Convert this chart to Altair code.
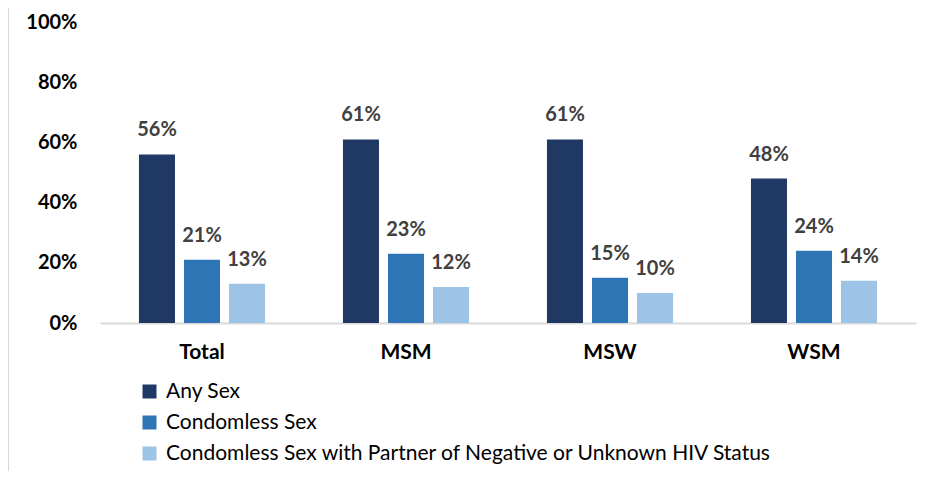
import altair as alt
import pandas as pd

categories = ["Total", "MSM", "MSW", "WSM"]
series = ["Any Sex", "Condomless Sex",
          "Condomless Sex with Partner of Negative or Unknown HIV Status"]
any_sex = [56, 61, 61, 48]
condomless = [21, 23, 15, 24]
condomless_neg = [13, 12, 10, 14]
colors = ["#203864", "#2E75B6", "#9DC3E6"]

rows = []
for i, c in enumerate(categories):
    for s, vals in zip(series, [any_sex, condomless, condomless_neg]):
        rows.append({"cat": c, "series": s, "value": vals[i] / 100.0,
                     "label": f"{vals[i]}%"})
df = pd.DataFrame(rows)

FONT = "Lato"

x = alt.X("cat:N", sort=categories, title=None,
          scale=alt.Scale(paddingInner=0.382, paddingOuter=0.191),
          axis=alt.Axis(labelAngle=0, labelFont=FONT, labelFontSize=21,
                        labelFontWeight="bold", labelColor="#000000",
                        labelPadding=18, ticks=False, domainColor="#d9d9d9",
                        domainWidth=2))
xo = alt.XOffset("series:N", sort=series,
                 scale=alt.Scale(paddingInner=0.2, paddingOuter=0))
y = alt.Y("value:Q", title=None,
          scale=alt.Scale(domain=[0, 1], nice=False),
          axis=alt.Axis(format=".0%", values=[0, 0.2, 0.4, 0.6, 0.8, 1.0],
                        labelFont=FONT, labelFontSize=20,
                        labelFontWeight="bold", labelColor="#000000",
                        labelPadding=23, ticks=False, domain=False,
                        grid=False))

bars = alt.Chart(df).mark_bar().encode(
    x=x, xOffset=xo, y=y,
    color=alt.Color("series:N", sort=series,
                    scale=alt.Scale(domain=series, range=colors),
                    legend=alt.Legend(title=None, orient="none",
                                      legendX=39, legendY=359,
                                      direction="vertical",
                                      labelFont=FONT, labelFontSize=21,
                                      labelColor="#000000",
                                      symbolType="square", symbolSize=196,
                                      symbolStrokeWidth=0,
                                      rowPadding=9, labelOffset=6,
                                      labelLimit=900)),
)

labels = alt.Chart(df).mark_text(
    dy=-14, font=FONT, fontSize=20, fontWeight="bold", color="#404040",
    baseline="bottom"
).encode(x=x, xOffset=xo, y=y, text="label:N")

border = alt.Chart(pd.DataFrame({"a": [0]})).mark_rule(
    color="#d9d9d9", strokeWidth=2
).encode(x=alt.value(-92), y=alt.value(-14), y2=alt.value(460))

chart = alt.layer(bars, labels, border).properties(
    width=816, height=301,
    padding={"left": 92, "top": 14, "right": 14, "bottom": 148},
    autosize=alt.AutoSizeParams(type="none"),
).configure_view(stroke=None)

chart.save("out.html", embed_options={"renderer": "svg", "actions": False})
